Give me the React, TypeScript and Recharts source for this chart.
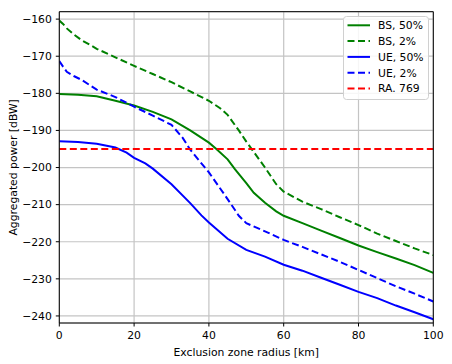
import React from 'react';
import { LineChart, Line, XAxis, YAxis, CartesianGrid, ReferenceLine } from 'recharts';

const xTicks = [0, 20, 40, 60, 80, 100];
const yTicks = [-240, -230, -220, -210, -200, -190, -180, -170, -160];

const bs50X = [0, 5, 10, 15, 20, 25, 30, 35, 40, 42, 45, 47, 50, 52, 55, 58, 60, 65, 70, 75, 80, 85, 90, 95, 100];
const bs50Y = [-180.2, -180.4, -180.8, -182, -183.3, -185, -187, -190, -193.3, -195, -197.8, -200.5, -204.2, -206.8, -209.5, -211.8, -213, -215, -217, -219, -221, -222.8, -224.5, -226.3, -228.4];

const bs2X = [0, 1, 2, 4, 6, 8, 10, 15, 20, 25, 30, 35, 40, 43, 45, 48, 50, 55, 58, 60, 65, 70, 75, 80, 85, 90, 95, 100];
const bs2Y = [-160.4, -161.3, -162.5, -164.2, -165.7, -166.8, -168, -170.3, -172.6, -174.8, -177, -179.5, -182, -184, -185.8, -190, -193, -200, -204.5, -206.5, -209.2, -211.2, -213.4, -215.5, -217.8, -219.8, -221.8, -223.6];

const ue50X = [0, 5, 10, 15, 18, 20, 23, 25, 30, 35, 38, 40, 45, 50, 55, 60, 65, 70, 75, 80, 85, 90, 95, 100];
const ue50Y = [-192.9, -193.1, -193.6, -194.6, -196, -197.4, -198.9, -200.3, -204.5, -209.6, -212.9, -214.8, -219.2, -222.2, -224, -226.2, -227.8, -229.7, -231.6, -233.5, -235.2, -237.2, -239, -240.9];

const ue2X = [0, 1, 2, 4, 6, 10, 15, 20, 25, 30, 33, 35, 40, 45, 48, 50, 55, 60, 65, 70, 75, 80, 85, 90, 95, 100];
const ue2Y = [-171.3, -172.8, -174.2, -175.4, -176.4, -179, -181, -183.6, -186, -188.5, -192, -195.2, -201.3, -208.5, -213, -215, -217.2, -219.5, -221.4, -223.4, -225.4, -227.6, -229.8, -232, -234, -236.1];

const raLevel = -195;

const seriesNames = ['BS, 50%', 'BS, 2%', 'UE, 50%', 'UE, 2%', 'RA. 769'];
const seriesColors = ['#008000', '#008000', '#0000ff', '#0000ff', '#ff0000'];
const seriesDashed = [false, true, false, true, true];

const toPts = (xs: number[], ys: number[]) => xs.map((x, i) => ({ x, y: ys[i] }));

const FONT = 'DejaVu Sans, sans-serif';
const fmt = (v: number) => (v < 0 ? '\u2212' + Math.abs(v) : String(v));

const LegendBox = () => (
  <svg width={86} height={84} style={{ position: 'absolute', left: 343, top: 15.5, display: 'block' }}>
    <rect x={0.5} y={0.5} width={85} height={83} rx={3} ry={3} fill="rgba(255,255,255,0.85)" stroke="#d0d0d0" strokeWidth={1} />
    {seriesNames.map((n, i) => {
      const cy = 9.3 + i * 15.8;
      return (
        <g key={n}>
          <line x1={4.5} x2={27} y1={cy} y2={cy} stroke={seriesColors[i]} strokeWidth={2} strokeDasharray={seriesDashed[i] ? '7 3.5' : undefined} />
          <text x={35} y={cy} dy="0.36em" fontSize={10.8} fontFamily={FONT} fill="#000">{n}</text>
        </g>
      );
    })}
  </svg>
);

export default function App() {
  const lines = [toPts(bs50X, bs50Y), toPts(bs2X, bs2Y), toPts(ue50X, ue50Y), toPts(ue2X, ue2Y), toPts([0, 100], [raLevel, raLevel])];
  return (
    <div style={{ position: 'absolute', left: 0, top: 0, width: 452, height: 364, background: '#fff' }}>
      <LineChart width={452} height={364} margin={{ top: 11.7, right: 18.7, bottom: 11, left: 9.3 }}>
        <CartesianGrid stroke="#c4c4c4" strokeWidth={1.2} />
        <XAxis
          type="number"
          dataKey="x"
          domain={[0, 100]}
          ticks={xTicks}
          allowDataOverflow
          height={30}
          tickSize={3.5}
          tickMargin={5}
          stroke="#000"
          tick={{ fill: '#000', fontSize: 10.8, fontFamily: FONT }}
          tickLine={{ stroke: '#000' }}
          axisLine={{ stroke: '#000', strokeWidth: 1 }}
          label={{ value: 'Exclusion zone radius [km]', position: 'insideBottom', offset: -3, fill: '#000', fontSize: 10.8, fontFamily: FONT }}
        />
        <YAxis
          type="number"
          dataKey="y"
          domain={[-241.9, -158]}
          ticks={yTicks}
          allowDataOverflow
          width={50}
          tickSize={3.5}
          tickMargin={4}
          tickFormatter={fmt}
          stroke="#000"
          tick={{ fill: '#000', fontSize: 10.8, fontFamily: FONT }}
          tickLine={{ stroke: '#000' }}
          axisLine={{ stroke: '#000', strokeWidth: 1 }}
          label={{ value: 'Aggregated power [dBW]', angle: -90, position: 'insideLeft', offset: 4, style: { textAnchor: 'middle' }, fill: '#000', fontSize: 10.8, fontFamily: FONT }}
        />
        {lines.map((d, i) => (
          <Line
            key={seriesNames[i]}
            data={d}
            dataKey="y"
            name={seriesNames[i]}
            type="linear"
            stroke={seriesColors[i]}
            strokeWidth={2}
            strokeDasharray={seriesDashed[i] ? '7 3.5' : undefined}
            dot={false}
            activeDot={false}
            isAnimationActive={false}
          />
        ))}
        <ReferenceLine x={100} stroke="#000" strokeWidth={1} />
        <ReferenceLine y={-158} stroke="#000" strokeWidth={1} />
      </LineChart>
      <LegendBox />
    </div>
  );
}
